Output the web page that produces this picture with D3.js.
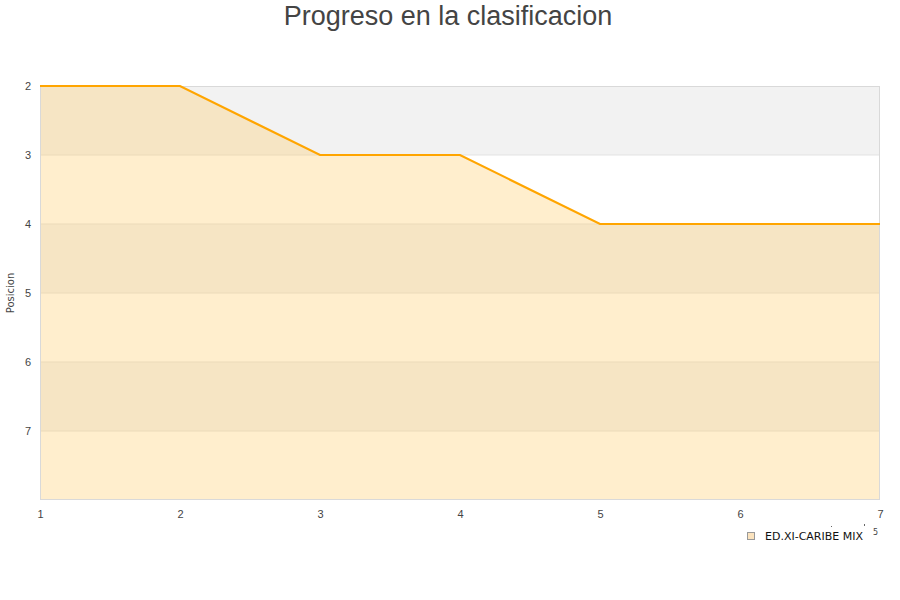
<!DOCTYPE html>
<html><head><meta charset="utf-8">
<script src="https://cdn.jsdelivr.net/npm/d3@7"></script>
<style>body{margin:0;background:#fff;}svg{display:block;font-family:"DejaVu Sans",sans-serif;}</style>
</head><body><svg id="c" width="900" height="600"></svg>
<script>
const title = "Progreso en la clasificacion";
const yLabel = "Posicion";
const seriesName = "ED.XI-CARIBE MIX";
const rounds = [1, 2, 3, 4, 5, 6, 7];
const positions = [2, 2, 3, 3, 4, 4, 4];
const yTicks = [2, 3, 4, 5, 6, 7];
const yDomain = [2, 8];

const svg = d3.select("#c");
const L = 40, R = 880, T = 86, B = 500;
const x = d3.scaleLinear().domain([1, 7]).range([L, R]);
const y = d3.scaleLinear().domain(yDomain).range([T, B]);

// bands
const bands = d3.range(yDomain[0], yDomain[1]);
svg.append("g").selectAll("rect").data(bands).join("rect")
  .attr("x", L).attr("width", R - L)
  .attr("y", d => y(d)).attr("height", d => y(d + 1) - y(d))
  .attr("fill", (d, i) => i % 2 === 0 ? "#f2f2f2" : "#ffffff");

// grid lines
svg.append("g").selectAll("line").data(yTicks.slice(1)).join("line")
  .attr("x1", L).attr("x2", R).attr("y1", d => y(d)).attr("y2", d => y(d))
  .attr("stroke", "#e3e3e3").attr("stroke-width", 1);

const pts = rounds.map((r, i) => [r, positions[i]]);
// area
svg.append("path").datum(pts)
  .attr("d", d3.area().x(d => x(d[0])).y0(y(yDomain[1])).y1(d => y(d[1])))
  .attr("fill", "rgb(255,204,102)").attr("fill-opacity", 0.33);

// frame
svg.append("rect").attr("x", L + 0.5).attr("y", T + 0.5).attr("width", R - L - 1).attr("height", B - T - 1)
  .attr("fill", "none").attr("stroke", "#d9d9d9");
svg.append("line").attr("x1", L).attr("x2", x(2)).attr("y1", T + 0.5).attr("y2", T + 0.5)
  .attr("stroke", "#9aa3ad").attr("stroke-width", 1);

// line
svg.append("path").datum(pts)
  .attr("d", d3.line().x(d => x(d[0])).y(d => y(d[1])))
  .attr("fill", "none").attr("stroke", "#ffa500").attr("stroke-width", 2.2);

// axes
const yAxis = d3.axisLeft(y).tickValues(yTicks).tickSize(0).tickPadding(9).tickFormat(d3.format("d"));
const gy = svg.append("g").attr("transform", `translate(${L},0)`).call(yAxis);
gy.select(".domain").remove();
gy.selectAll("text").attr("fill", "#444").style("font-size", "11px");

const xAxis = d3.axisBottom(x).tickValues(rounds).tickSize(0).tickPadding(10).tickFormat(d3.format("d"));
const gx = svg.append("g").attr("transform", `translate(0,${B})`).call(xAxis);
gx.select(".domain").remove();
gx.selectAll("text").attr("fill", "#444").style("font-size", "11px");

// title
svg.append("text").attr("x", 448).attr("y", 25).attr("text-anchor", "middle")
  .style("font-family", "'Liberation Sans', Arial, sans-serif").style("font-size", "27px").attr("fill", "#444").text(title);

// y label
svg.append("text").attr("transform", "translate(14,293) rotate(-90)").attr("text-anchor", "middle")
  .style("font-size", "10px").attr("fill", "#444").text(yLabel);

// legend
svg.append("rect").attr("x", 747.5).attr("y", 532.5).attr("width", 7).attr("height", 7)
  .attr("fill", "#fbe3be").attr("stroke", "#999");
svg.append("text").attr("x", 765).attr("y", 540).style("font-size", "11px").attr("fill", "#111").text(seriesName);
svg.append("text").attr("x", 873).attr("y", 535).style("font-size", "8px").attr("fill", "#444").text("5");
svg.append("rect").attr("x", 831).attr("y", 526).attr("width", 1).attr("height", 1).attr("fill", "#666");
svg.append("rect").attr("x", 864).attr("y", 524).attr("width", 1).attr("height", 2).attr("fill", "#666");
</script></body></html>
